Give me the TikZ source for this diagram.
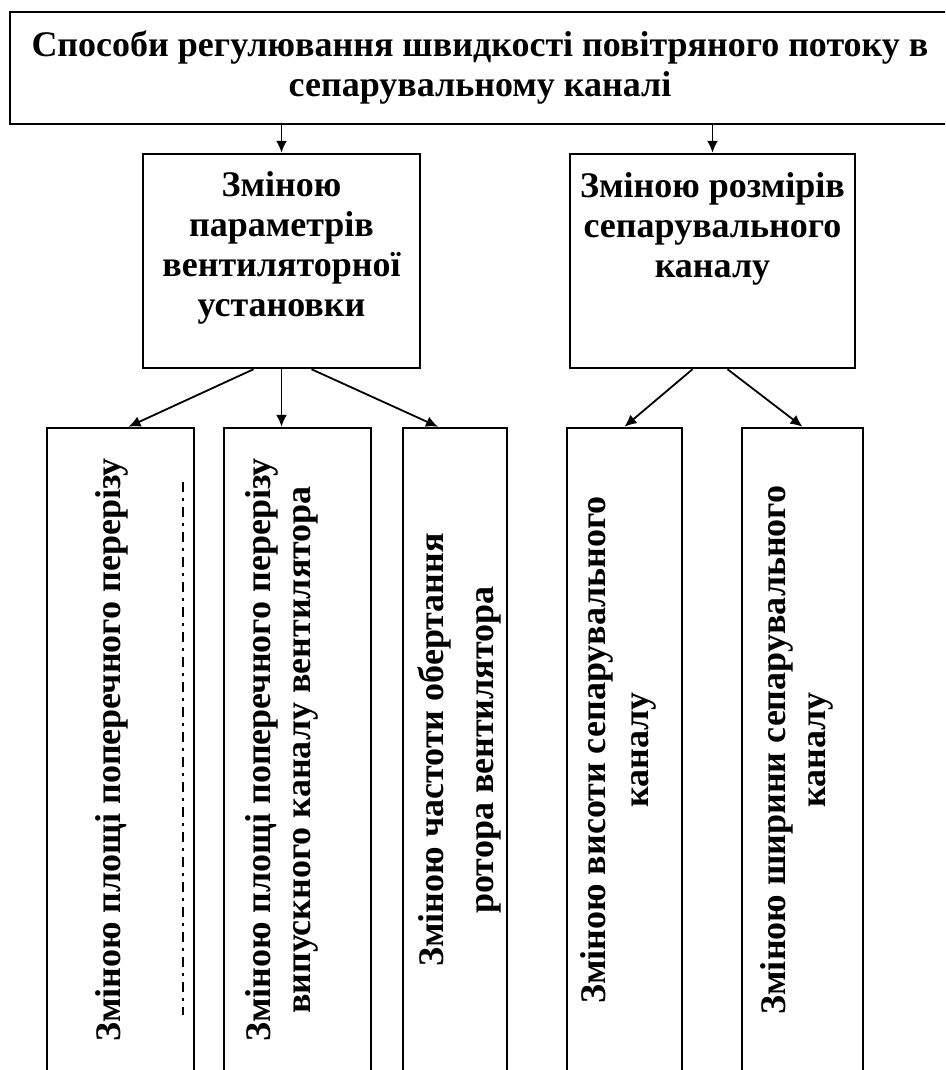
\documentclass[tikz,border=0pt]{standalone}
\usepackage{fontspec}
\setmainfont{Liberation Serif}
\usetikzlibrary{arrows.meta}
\tikzset{
  frame/.style={draw, line width=2.5pt, inner sep=0pt},
  caption/.style={align=center, inner sep=0pt, font=\fontsize{36}{40}\selectfont\bfseries},
  arr/.style={-{Latex[length=12pt,width=11pt]}, line width=1.8pt},
}
\begin{document}
\begin{tikzpicture}[x=1pt,y=-1pt]
  \clip (0,0) rectangle (945,1070);
  % top level
  \node[frame, minimum width=940pt, minimum height=112pt] (head) at (480,68) {};
  \node[caption] (headtext) at (480,68) {Способи регулювання швидкості повітряного потоку в\\сепарувальному каналі};
  % second level
  \node[frame, minimum width=277pt, minimum height=214pt] (vent) at (281.5,261) {};
  \node[caption, anchor=north] (venttext) at (281.5,171) {Зміною\\параметрів\\вентиляторної\\установки};
  \node[frame, minimum width=285pt, minimum height=214pt] (chan) at (712.5,261) {};
  \node[caption, anchor=north] (chantext) at (712.5,172) {Зміною розмірів\\сепарувального\\каналу};
  % third level
  \node[frame, minimum width=147pt, minimum height=644pt] (area) at (120.5,750) {};
  \node[frame, minimum width=147pt, minimum height=644pt] (outlet) at (297.5,750) {};
  \node[frame, minimum width=104pt, minimum height=644pt] (rotor) at (455,750) {};
  \node[frame, minimum width=115pt, minimum height=644pt] (chanh) at (624.5,750) {};
  \node[frame, minimum width=121pt, minimum height=644pt] (chanw) at (802.5,750) {};
  \node[caption, rotate=90] (areatext) at (112,750) {Зміною площі поперечного перерізу};
  \draw[line width=1.5pt, dash pattern=on 10pt off 6pt on 3pt off 6pt] (183,482) -- (183,1015);
  \node[caption, rotate=90] (outlettext) at (282,750) {Зміною площі поперечного перерізу\\випускного каналу вентилятора};
  \node[caption, rotate=90] (rotortext) at (459,750) {Зміною частоти обертання\\[10pt]ротора вентилятора};
  \node[caption, rotate=90] (chanhtext) at (618,750) {Зміною висоти сепарувального\\[3pt]каналу};
  \node[caption, rotate=90] (chanwtext) at (797,750) {Зміною ширини сепарувального\\каналу};
  % arrows
  \draw[arr] (head.south -| vent) -- (vent);
  \draw[arr] (head.south -| chan) -- (chan);
  \draw[arr] ([xshift=-28pt]vent.south) -- ([xshift=8pt]area.north);
  \draw[arr] (vent.south) -- (vent.south |- outlet.north);
  \draw[arr] ([xshift=30pt]vent.south) -- ([xshift=-17pt]rotor.north);
  \draw[arr] ([xshift=-20pt]chan.south) -- (chanh.north);
  \draw[arr] ([xshift=15pt]chan.south) -- (chanw.north);
\end{tikzpicture}
\end{document}
